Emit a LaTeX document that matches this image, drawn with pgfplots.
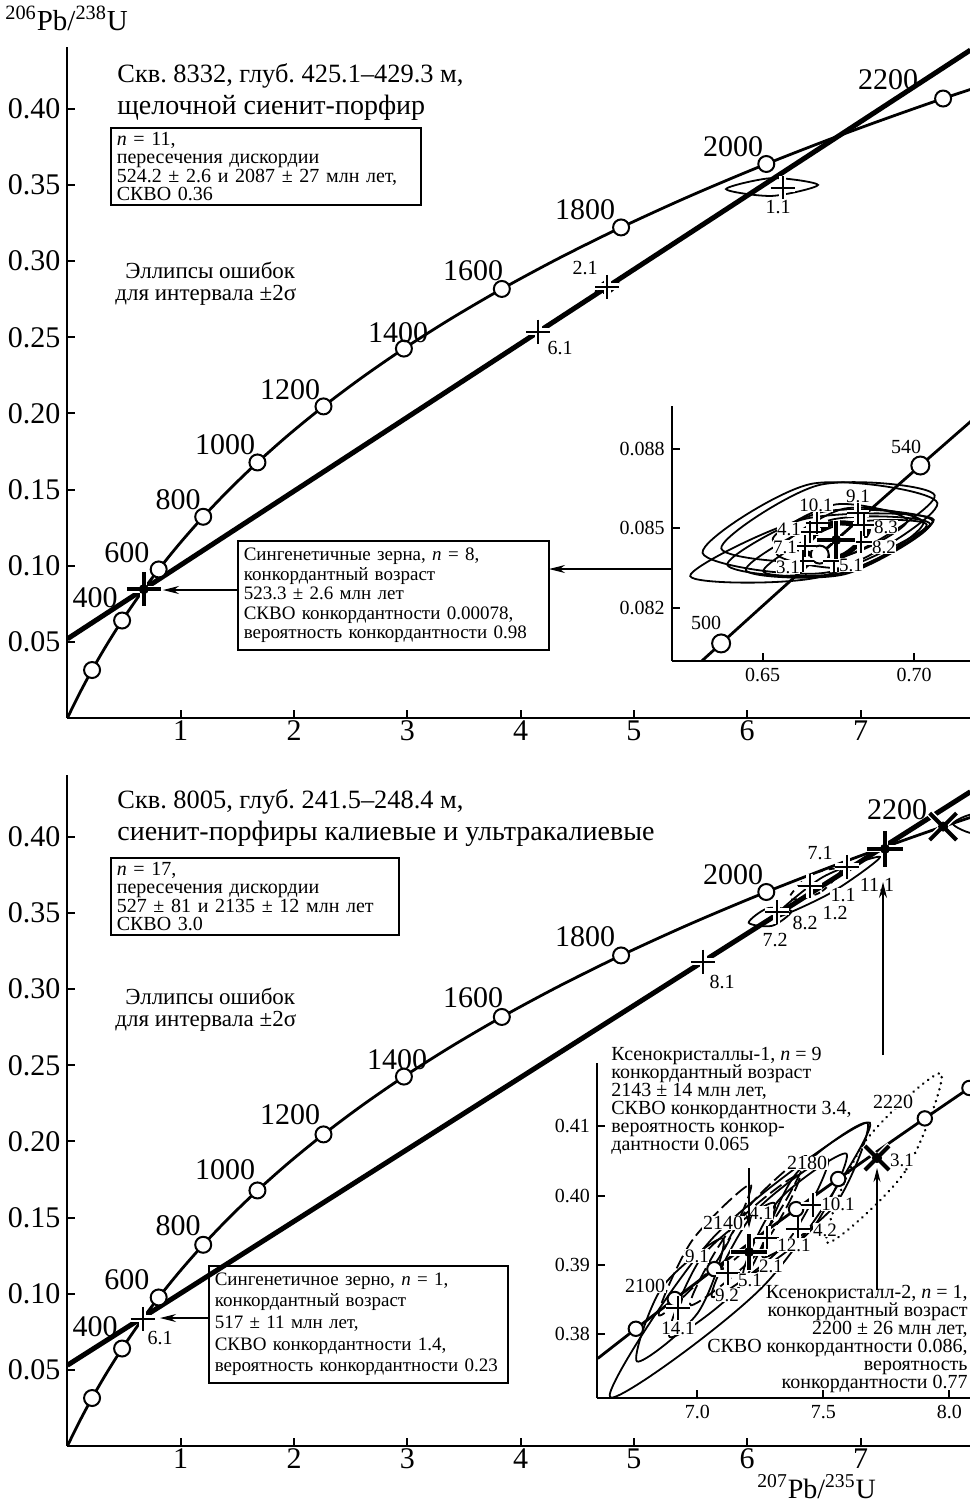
\documentclass[border=0pt]{standalone}
\usepackage{pgfplots}
\usepackage{pgfplotstable}
\pgfplotsset{compat=1.18}
\usepackage{fontspec}
\setmainfont{Liberation Serif}
\usetikzlibrary{arrows.meta}
\frenchspacing
\newcommand{\fA}{\fontsize{15}{17}\selectfont}
\newcommand{\fT}{\fontsize{14}{16}\selectfont}
\newcommand{\fB}{\fontsize{10}{9.3}\selectfont}
\newcommand{\fBB}{\fontsize{9.5}{9.8}\selectfont}
\newcommand{\fBC}{\fontsize{9.5}{10.8}\selectfont}
\newcommand{\fC}{\fontsize{10}{9}\selectfont}
\newcommand{\fE}{\fontsize{9.5}{9}\selectfont}
\newcommand{\fD}{\fontsize{11.5}{13}\selectfont}

% concordia, main panels (t, 207Pb/235U, 206Pb/238U)
\pgfplotstableread{
t x y
0 0 0
100 0.10350 0.015633
200 0.21771 0.031511
300 0.34374 0.047637
400 0.48281 0.064016
500 0.63628 0.080650
600 0.80563 0.097544
700 0.99251 0.114702
800 1.19873 0.132129
900 1.42629 0.149828
1000 1.67741 0.167804
1100 1.95452 0.186061
1200 2.26030 0.204603
1300 2.59774 0.223435
1400 2.97009 0.242561
1500 3.38099 0.261987
1600 3.83441 0.281717
1700 4.33477 0.301754
1800 4.88690 0.322104
1900 5.49619 0.342773
2000 6.16852 0.363767
2100 6.91044 0.385086
2200 7.72916 0.406740
2300 8.63261 0.428732
}\concmain
\pgfplotstableread{
t x y
200 0.21771 0.031511
400 0.48281 0.064016
600 0.80563 0.097544
800 1.19873 0.132129
1000 1.67741 0.167804
1200 2.26030 0.204603
1400 2.97009 0.242561
1600 3.83441 0.281717
1800 4.88690 0.322104
2000 6.16852 0.363767
2200 7.72916 0.406740
}\circtop
\pgfplotstableread{
t x y
200 0.21771 0.031511
400 0.48281 0.064016
600 0.80563 0.097544
800 1.19873 0.132129
1000 1.67741 0.167804
1200 2.26030 0.204603
1400 2.97009 0.242561
1600 3.83441 0.281717
1800 4.88690 0.322104
2000 6.16852 0.363767
}\circbot
\pgfplotstableread{
t x y
480 0.604365 0.077302
490 0.620243 0.078975
500 0.636279 0.080650
510 0.652474 0.082327
520 0.668829 0.084008
530 0.685346 0.085691
540 0.702027 0.087376
550 0.718871 0.089064
560 0.735883 0.090755
}\concinsA
\pgfplotstableread{
t x y
2060 6.60488 0.376518
2080 6.75617 0.380796
2100 6.91044 0.385086
2120 7.06781 0.389391
2140 7.22830 0.393707
2160 7.39197 0.398038
2180 7.55890 0.402381
2200 7.72916 0.406740
2220 7.90281 0.411111
2240 8.07992 0.415496
2260 8.26136 0.419894
}\concinsB

\pgfplotsset{
  mainax/.style={
    x=56.65pt, y=761.5pt,
    xmin=0, xmax=7.97, ymin=0, ymax=0.4406,
    axis x line*=bottom, axis y line*=left,
    axis line style={line width=1pt},
    tick align=inside, major tick length=4pt,
    tick style={line width=1pt, black},
    xtick={1,2,3,4,5,6,7},
    ytick={0.05,0.1,0.15,0.2,0.25,0.3,0.35,0.4},
    scaled ticks=false,
    /pgf/number format/assume math mode=true,
    yticklabel style={/pgf/number format/fixed, /pgf/number format/fixed zerofill, /pgf/number format/precision=2},
    xticklabel style={yshift=2pt},
    tick label style={font=\fA},
    clip mode=individual,
  },
  insax/.style={
    axis x line*=bottom, axis y line*=left,
    axis line style={line width=1pt},
    tick align=inside, major tick length=4pt,
    tick style={line width=1pt, black},
    scaled ticks=false,
    /pgf/number format/assume math mode=true,
    tick label style={font=\fC},
    clip mode=individual,
  },
  conc/.style={line width=1.4pt, black, smooth},
  disc/.style={line width=2.5pt, black},
  agecirc/.style={only marks, mark=*, mark size=4pt, mark options={fill=white, draw=black, line width=1pt}},
  agecircs/.style={only marks, mark=*, mark size=3.6pt, mark options={fill=white, draw=black, line width=1pt}},
  ell/.style={line width=0.9pt, black, smooth cycle},
  halo/.style={only marks, white, mark=#1, mark options={line width=3.5pt}},
  crs/.style={only marks, black, mark=#1, mark options={line width=1pt}},
  bcrs/.style={only marks, black, mark=#1, mark options={line width=2pt}},
  dot/.style={only marks, black, mark=*, mark size=2.3pt},
}

\begin{document}
\begin{tikzpicture}
\useasboundingbox (0,0) rectangle (485pt,-753pt);

% ================= TOP MAIN PANEL =================
\begin{axis}[mainax, at={(33.7pt,-359pt)}, anchor=south west]
  \addplot[disc] coordinates {(0,0.05195) (7.97,0.43857)};
  \addplot[conc] table[x=x,y=y] {\concmain};
  \addplot[agecirc] table[x=x,y=y] {\circtop};
  % analysis 1.1
  \addplot[ell] coordinates {(6.625,0.3500) (6.219,0.3428) (5.813,0.3473) (6.219,0.3545)};
  % analysis 2.1 small ellipse
  \addplot[ell, dashed] coordinates {(4.8627,0.2857) (4.7811,0.2793) (4.6633,0.2803) (4.7449,0.2867)};
  \addplot[halo=+, mark size=6pt] coordinates {(6.315,0.3480) (4.763,0.2830) (4.154,0.2537)};
  \addplot[crs=+, mark size=6pt] coordinates {(6.315,0.3480) (4.763,0.2830) (4.154,0.2537)};
  % concordant age
  \addplot[halo=+, mark size=9pt] coordinates {(0.67426,0.084563)};
  \addplot[bcrs=+, mark size=8.5pt] coordinates {(0.67426,0.084563)};
  \addplot[dot] coordinates {(0.67426,0.084563)};
\end{axis}

% ================= TOP INSET =================
\begin{axis}[insax, at={(335.85pt,-330.5pt)}, anchor=south west,
  x=1515pt, y=13225pt,
  xmin=0.61997, xmax=0.72, ymin=0.079985, ymax=0.089626,
  xtick={0.65,0.70}, ytick={0.082,0.085,0.088},
  xticklabel style={/pgf/number format/fixed, /pgf/number format/fixed zerofill, /pgf/number format/precision=2},
  yticklabel style={/pgf/number format/fixed, /pgf/number format/fixed zerofill, /pgf/number format/precision=3}]
  \addplot[ell] coordinates {(0.70766,0.085955) (0.67201,0.083350) (0.63016,0.084072) (0.66581,0.086677)};
  \addplot[ell] coordinates {(0.70647,0.085319) (0.66851,0.083153) (0.62607,0.083195) (0.66406,0.085361)};
  \addplot[ell] coordinates {(0.70611,0.085270) (0.67442,0.083263) (0.63832,0.083622) (0.67003,0.085629)};
  \addplot[ell] coordinates {(0.70528,0.085164) (0.67710,0.083267) (0.64442,0.083425) (0.67261,0.085323)};
  \addplot[ell] coordinates {(0.70413,0.085142) (0.67934,0.083384) (0.65020,0.083372) (0.67498,0.085130)};
  \addplot[ell] coordinates {(0.70304,0.085225) (0.68086,0.083527) (0.65459,0.084045) (0.67677,0.085743)};
  \addplot[ell] coordinates {(0.69772,0.085297) (0.67670,0.083966) (0.65330,0.084578) (0.67432,0.085909)};
  \addplot[ell] coordinates {(0.70677,0.086246) (0.67459,0.083845) (0.63634,0.084234) (0.66851,0.086635)};
  \addplot[conc] table[x=x,y=y] {\concinsA};
  \addplot[ell, line width=2.6pt] coordinates {(0.68485,0.084957) (0.67594,0.083947) (0.66353,0.084163) (0.67244,0.085172)};
  \addplot[agecirc, mark size=4.5pt] coordinates {(0.636279,0.080650) (0.668829,0.084008) (0.702027,0.087376)};
  \addplot[halo=+, mark size=5.5pt] coordinates {(0.66782,0.085191) (0.68145,0.085569) (0.66561,0.084877) (0.66396,0.084321) (0.66330,0.083755) (0.67353,0.083755) (0.68228,0.084489) (0.68327,0.085115)};
  \addplot[crs=+, mark size=5.5pt] coordinates {(0.66782,0.085191) (0.68145,0.085569) (0.66561,0.084877) (0.66396,0.084321) (0.66330,0.083755) (0.67353,0.083755) (0.68228,0.084489) (0.68327,0.085115)};
  \addplot[halo=+, mark size=10pt] coordinates {(0.67426,0.084563)};
  \addplot[bcrs=+, mark size=9.5pt] coordinates {(0.67426,0.084563)};
  \addplot[dot] coordinates {(0.67426,0.084563)};
\end{axis}

% ================= BOTTOM MAIN PANEL =================
\begin{axis}[mainax, at={(33.7pt,-723pt)}, anchor=south west]
  \addplot[disc] coordinates {(0,0.053043) (7.97,0.429578)};
  \addplot[conc] table[x=x,y=y] {\concmain};
  \addplot[agecirc] table[x=x,y=y] {\circbot};
  \addplot[ell] coordinates {(7.1730,0.3868) (6.7406,0.3633) (6.2357,0.3468) (6.6682,0.3736)};
  \addplot[ell] coordinates {(6.3893,0.3511) (6.2214,0.3416) (6.0133,0.3436) (6.1809,0.3531)};
  \addplot[ell, dashed] coordinates {(6.8279,0.3789) (6.6429,0.3634) (6.3693,0.3592) (6.5543,0.3748)};
  \addplot[ell] coordinates {(8.205,0.4086) (8.010,0.4020) (7.816,0.4086) (8.010,0.4151)};
  \addplot[halo=+, mark size=6pt] coordinates {(0.6639,0.0835) (5.61,0.3180) (6.260,0.3507) (6.554,0.3678) (6.878,0.3803)};
  \addplot[crs=+, mark size=6pt] coordinates {(0.6639,0.0835) (5.61,0.3180) (6.260,0.3507) (6.554,0.3678) (6.878,0.3803)};
  \addplot[halo=+, mark size=9.5pt] coordinates {(7.216,0.3921)};
  \addplot[bcrs=+, mark size=9pt] coordinates {(7.216,0.3921)};
  \addplot[dot] coordinates {(7.216,0.3921)};
  \addplot[halo=x, mark size=10pt] coordinates {(7.72916,0.406740)};
  \addplot[bcrs=x, mark size=9.5pt] coordinates {(7.72916,0.406740)};
  \addplot[dot] coordinates {(7.72916,0.406740)};
\end{axis}

% ================= BOTTOM INSET =================
\begin{axis}[insax, at={(298.5pt,-699pt)}, anchor=south west,
  x=126pt, y=3470pt,
  xmin=6.602, xmax=8.1, ymin=0.37082, ymax=0.41909,
  xtick={7,7.5,8}, ytick={0.38,0.39,0.40,0.41},
  xticklabel style={/pgf/number format/fixed, /pgf/number format/fixed zerofill, /pgf/number format/precision=1},
  yticklabel style={/pgf/number format/fixed, /pgf/number format/fixed zerofill, /pgf/number format/precision=2}]
  \addplot[ell] coordinates {(7.1020,0.393790) (7.0028,0.383127) (6.7607,0.376095) (6.8599,0.386758)};
  \addplot[ell] coordinates {(7.3056,0.398919) (7.1730,0.387133) (6.8905,0.379611) (7.0230,0.391398)};
  \addplot[ell, dash pattern=on 7pt off 2.5pt] coordinates {(7.2127,0.401585) (7.0825,0.390821) (6.8484,0.382709) (6.9786,0.393473)};
  \addplot[ell, dash pattern=on 7pt off 2.5pt] coordinates {(7.4060,0.402968) (7.2440,0.391916) (6.9726,0.384207) (7.1345,0.395259)};
  \addplot[ell] coordinates {(7.5183,0.405245) (7.3556,0.393285) (7.0587,0.385389) (7.2214,0.397349)};
  \addplot[ell, dash pattern=on 7pt off 2.5pt] coordinates {(7.4321,0.405706) (7.2925,0.395951) (7.0655,0.388674) (7.2052,0.398429)};
  \addplot[ell] coordinates {(7.5917,0.406023) (7.4548,0.395159) (7.1837,0.388357) (7.3206,0.399222)};
  \addplot[ell] coordinates {(7.6746,0.410447) (7.5452,0.398573) (7.2595,0.391138) (7.3889,0.403012)};
  \addplot[ell] coordinates {(7.6849,0.410490) (7.2702,0.387248) (6.6540,0.370922) (7.0687,0.394164)};
  \addplot[ell, line width=1.3pt, dash pattern=on 0.1pt off 3pt, line cap=round] coordinates {(7.9671,0.417594) (7.8230,0.403386) (7.5147,0.393213) (7.6587,0.407421)};
  \addplot[conc] table[x=x,y=y] {\concinsB};
  \addplot[agecircs] coordinates {(6.75617,0.380796) (6.91044,0.385086) (7.06781,0.389391) (7.39197,0.398038) (7.55890,0.402381) (7.90281,0.411111) (8.07992,0.415496)};
  \addplot[halo=+, mark size=6pt] coordinates {(7.4591,0.398631) (7.3996,0.395173) (7.2766,0.393876) (7.1218,0.388833) (6.9234,0.383790)};
  \addplot[crs=+, mark size=6pt] coordinates {(7.4591,0.398631) (7.3996,0.395173) (7.2766,0.393876) (7.1218,0.388833) (6.9234,0.383790)};
  \addplot[halo=+, mark size=9.5pt] coordinates {(7.2052,0.391859)};
  \addplot[bcrs=+, mark size=9pt] coordinates {(7.2052,0.391859)};
  \addplot[dot] coordinates {(7.2052,0.391859)};
  \addplot[halo=x, mark size=9pt] coordinates {(7.7131,0.405403)};
  \addplot[bcrs=x, mark size=8.5pt] coordinates {(7.7131,0.405403)};
  \addplot[dot] coordinates {(7.7131,0.405403)};
\end{axis}

% ================= ANNOTATIONS (pixel grid) =================
\begin{scope}[x=0.5pt, y=-0.5pt]
  % axis titles
  \node[anchor=base west, font=\fontsize{14.5}{16}\selectfont, inner sep=0] at (5,30) {\textsuperscript{206}Pb/\textsuperscript{238}U};
  \node[anchor=base west, font=\fontsize{14}{16}\selectfont, inner sep=0] at (757,1498) {\textsuperscript{207}Pb/\textsuperscript{235}U};

  % ---- top panel texts ----
  \node[anchor=base west, font=\fontsize{13.2}{16}\selectfont, inner sep=0] at (117,82) {Скв. 8332, глуб. 425.1–429.3 м,};
  \node[anchor=base west, font=\fT, inner sep=0] at (117,114) {щелочной сиенит-порфир};
  \node[draw, line width=0.8pt, anchor=north west, font=\fB, align=left, text width=149pt, inner xsep=3pt, inner ysep=2pt] at (110,127)
    {\textit{n} = 11,\\ пересечения дискордии\\ 524.2 ± 2.6 и 2087 ± 27 млн лет,\\ СКВО 0.36};
  \node[anchor=west, font=\fD, inner sep=0] at (125,270) {Эллипсы ошибок};
  \node[anchor=west, font=\fD, inner sep=0] at (115,295) {для интервала ±2σ};
  \foreach \lab/\px/\py in {2200/888/80, 2000/733/147, 1800/585/210, 1600/473/271, 1400/398/333, 1200/290/390, 1000/225/445, 800/178/500, 600/127/553, 400/95/598}
    \node[font=\fA, inner sep=0] at (\px,\py) {\lab};
  \node[font=\fC, fill=white, inner sep=0.5pt] at (778,207) {1.1};
  \node[font=\fC, fill=white, inner sep=0.5pt] at (585,268) {2.1};
  \node[font=\fC, fill=white, inner sep=0.5pt] at (560,348) {6.1};
  \node[draw, line width=0.8pt, anchor=north west, font=\fBB, align=left, text width=149.5pt, inner xsep=3pt, inner ysep=3.5pt] at (237,540)
    {Сингенетичные зерна, \textit{n} = 8,\\ конкордантный возраст\\ 523.3 ± 2.6 млн лет\\ СКВО конкордантности 0.00078,\\ вероятность конкордантности 0.98};
  \draw[line width=0.6pt, -{Stealth[length=8pt, width=4pt]}] (237,590) -- (163,590);
  \draw[line width=0.6pt, -{Stealth[length=8pt, width=4pt]}] (671,569) -- (549,569);
  % top inset labels
  \node[font=\fC, inner sep=0] at (906,447) {540};
  \node[font=\fC, inner sep=0] at (706,623) {500};
  \foreach \lab/\px/\py in {10.1/816/505, 9.1/858/496, 4.1/789/529, 8.3/886/527, 7.1/785/547, 8.2/884/547, 3.1/788/567, 5.1/851/565}
    \node[font=\fE, fill=white, inner sep=0.2pt] at (\px,\py) {\lab};

  % ---- bottom panel texts ----
  \node[anchor=base west, font=\fontsize{13.2}{16}\selectfont, inner sep=0] at (117,808) {Скв. 8005, глуб. 241.5–248.4 м,};
  \node[anchor=base west, font=\fT, inner sep=0] at (117,840) {сиенит-порфиры калиевые и ультракалиевые};
  \node[draw, line width=0.8pt, anchor=north west, font=\fB, align=left, text width=138pt, inner xsep=3pt, inner ysep=2pt] at (110,857)
    {\textit{n} = 17,\\ пересечения дискордии\\ 527 ± 81 и 2135 ± 12 млн лет\\ СКВО 3.0};
  \node[anchor=west, font=\fD, inner sep=0] at (125,996) {Эллипсы ошибок};
  \node[anchor=west, font=\fD, inner sep=0] at (115,1021) {для интервала ±2σ};
  \foreach \lab/\px/\py in {2200/897/810, 2000/733/875, 1800/585/937, 1600/473/998, 1400/397/1060, 1200/290/1115, 1000/225/1170, 800/178/1226, 600/127/1280, 400/95/1327}
    \node[font=\fA, inner sep=0] at (\px,\py) {\lab};
  \foreach \lab/\px/\py in {6.1/160/1338, 8.1/722/982, 8.2/805/923, 7.2/775/940, 1.1/843/895, 1.2/835/913, 7.1/820/853, 11.1/877/885}
    \node[font=\fC, fill=white, inner sep=0.3pt] at (\px,\py) {\lab};
  \node[draw, line width=0.8pt, anchor=north west, font=\fBC, align=left, text width=143.5pt, inner xsep=3pt, inner ysep=3.5pt] at (208,1265)
    {Сингенетичное зерно, \textit{n} = 1,\\ конкордантный возраст\\ 517 ± 11 млн лет,\\ СКВО конкордантности 1.4,\\ вероятность конкордантности 0.23};
  \draw[line width=0.6pt, -{Stealth[length=8pt, width=4pt]}] (208,1318) -- (160,1318);
  \draw[line width=0.6pt, -{Stealth[length=8pt, width=4pt]}] (883,1055) -- (883,882);
  % bottom inset texts
  \node[anchor=north west, font=\fC, align=left, inner sep=0] at (611,1047)
    {Ксенокристаллы-1, \textit{n} = 9\\ конкордантный возраст\\ 2143 ± 14 млн лет,\\ СКВО конкордантности 3.4,\\ вероятность конкор-\\ дантности 0.065};
  \node[anchor=north east, font=\fC, align=right, inner sep=0] at (968,1285)
    {Ксенокристалл-2, \textit{n} = 1,\\ конкордантный возраст\\ 2200 ± 26 млн лет,\\ СКВО конкордантности 0.086,\\ вероятность\\ конкордантности 0.77};
  \foreach \lab/\px/\py in {2220/893/1102, 2180/807/1163, 2140/723/1223, 2100/645/1286}
    \node[font=\fC, fill=white, inner sep=0.3pt] at (\px,\py) {\lab};
  \foreach \lab/\px/\py in {3.1/902/1160, 10.1/838/1204, 4.1/761/1213, 4.2/825/1230, 12.1/794/1245, 9.1/697/1256, 2.1/771/1266, 5.1/750/1280, 9.2/727/1295, 14.1/678/1328}
    \node[font=\fE, fill=white, inner sep=0.2pt] at (\px,\py) {\lab};
  \draw[line width=0.6pt, -{Stealth[length=7pt, width=3.5pt]}] (749,1168) -- (749,1228);
  \draw[line width=0.6pt, -{Stealth[length=7pt, width=3.5pt]}] (877,1290) -- (877,1168);
\end{scope}
\end{tikzpicture}
\end{document}
